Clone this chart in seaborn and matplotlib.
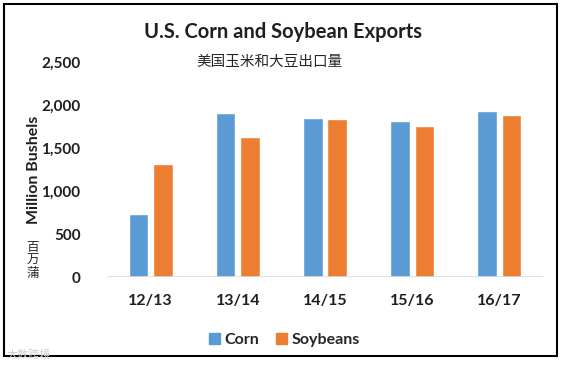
import pandas as pd
import numpy as np
import matplotlib.pyplot as plt
import seaborn as sns

# data (million bushels)
years = ["12/13", "13/14", "14/15", "15/16", "16/17"]
corn = [730, 1910, 1850, 1815, 1935]
soybeans = [1315, 1630, 1840, 1755, 1885]
yticks = [0, 500, 1000, 1500, 2000, 2500]

df = pd.DataFrame({"year": years * 2,
                   "crop": ["Corn"] * 5 + ["Soybeans"] * 5,
                   "value": corn + soybeans})

sns.set_style("white")
plt.rcParams['font.family'] = ['Lato', 'Noto Sans CJK SC']
cjk = ['Noto Sans CJK SC', 'DejaVu Sans']

fig = plt.figure(figsize=(5.63, 3.67), dpi=100)
ax = fig.add_axes([0.190, 0.2452, 0.7745, 0.5858])

sns.barplot(data=df, x="year", y="value", hue="crop", order=years,
            palette={"Corn": "#5B9BD5", "Soybeans": "#ED7D31"}, saturation=1,
            width=0.56, gap=0.2, ax=ax, legend=False)

ax.set_ylim(0, 2500)
ax.set_xlim(-0.5, 4.5)
ax.set_yticks(yticks)
ax.set_yticklabels([f"{v:,}" for v in yticks], fontsize=11, fontweight="bold", color="#1f1f1f")
ax.set_xticks(range(5))
ax.set_xticklabels(years, fontsize=11.5, fontweight="bold", color="#1f1f1f")
ax.tick_params(axis="y", length=0, pad=19)
ax.tick_params(axis="x", length=0, pad=12)
sns.despine(ax=ax, left=True, bottom=True)
ax.axhline(0, color="#D9D9D9", linewidth=1.2)
ax.set_xlabel("")
ax.set_ylabel("")

# titles and labels
fig.text(0.503, 0.913, "U.S. Corn and Soybean Exports", ha="center", va="center",
         fontsize=14.5, fontweight="bold", color="#1f1f1f")
fig.text(0.478, 0.831, "美国玉米和大豆出口量", ha="center", va="center",
         fontsize=10.5, family=cjk)
fig.text(0.060, 0.537, "Million Bushels", rotation=90, ha="center", va="center",
         fontsize=11.5, fontweight="bold", color="#1f1f1f")
fig.text(0.058, 0.29, "百\n万\n蒲", ha="center", va="center", fontsize=9,
         linespacing=1.0, family=cjk)

# legend
handles = [plt.Rectangle((0, 0), 1, 1, color="#5B9BD5"),
           plt.Rectangle((0, 0), 1, 1, color="#ED7D31")]
fig.legend(handles, ["Corn", "Soybeans"], loc="center", bbox_to_anchor=(0.505, 0.073),
           ncol=2, frameon=False, handlelength=0.7, handleheight=0.7,
           handletextpad=0.3, columnspacing=1.0,
           prop={"size": 11.5, "weight": "bold", "family": "Lato"})

# watermark
fig.text(0.012, 0.035, "大数跨境", fontsize=8, color="#D0D0D0", family=cjk, va="center")

# frame
fig.patches.append(plt.Rectangle((4 / 563, 1 - 356 / 367), 553 / 563, 352 / 367,
                                 transform=fig.transFigure, fill=False,
                                 edgecolor="black", linewidth=1.5))

plt.savefig("out.png", dpi=100)
